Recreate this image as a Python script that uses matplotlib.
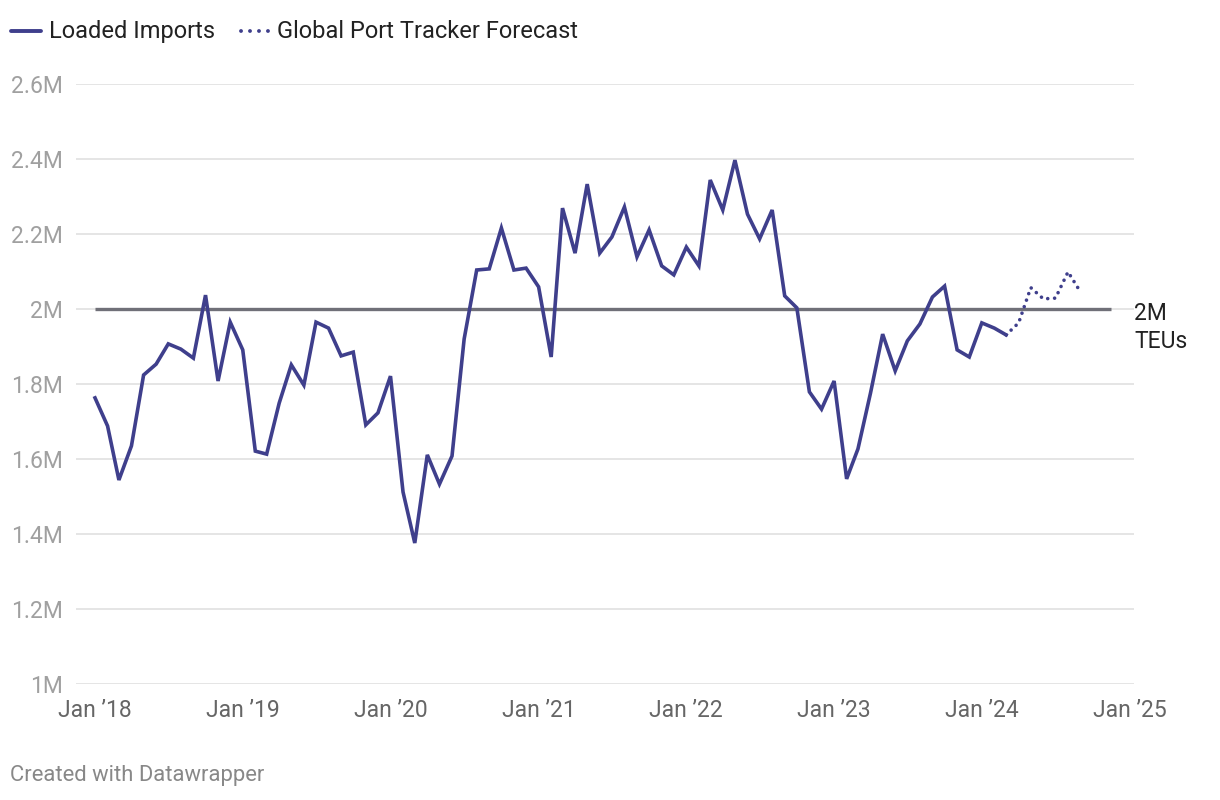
import pandas as pd
import matplotlib
matplotlib.use("Agg")
import matplotlib.pyplot as plt
from matplotlib.lines import Line2D

plt.rcParams["font.family"] = ["Roboto", "DejaVu Sans"]

# monthly loaded imports, millions of TEUs (Jan 2018 - Mar 2024)
import_dates = pd.date_range("2018-01-01", "2024-03-01", freq="MS")
imports = [
    1.763, 1.688, 1.544, 1.635, 1.824, 1.853, 1.907, 1.893, 1.869, 2.037, 1.808, 1.965,
    1.891, 1.621, 1.613, 1.749, 1.851, 1.797, 1.965, 1.949, 1.875, 1.885, 1.691, 1.723,
    1.821, 1.512, 1.376, 1.611, 1.533, 1.608, 1.920, 2.104, 2.107, 2.216, 2.104, 2.109,
    2.059, 1.872, 2.269, 2.149, 2.333, 2.149, 2.192, 2.272, 2.139, 2.211, 2.115, 2.091,
    2.165, 2.115, 2.344, 2.264, 2.397, 2.253, 2.187, 2.264, 2.035, 2.003, 1.779, 1.733,
    1.808, 1.547, 1.627, 1.776, 1.933, 1.835, 1.915, 1.960, 2.032, 2.061, 1.891, 1.872,
    1.963, 1.949, 1.931,
]

# Global Port Tracker forecast (Mar 2024 - Sep 2024)
forecast_dates = pd.date_range("2024-03-01", "2024-09-01", freq="MS")
forecast = [1.931, 1.963, 2.057, 2.027, 2.029, 2.099, 2.045]

ref_value = 2.0
y_ticks = [1.0, 1.2, 1.4, 1.6, 1.8, 2.0, 2.2, 2.4, 2.6]
y_labels = ["1M", "1.2M", "1.4M", "1.6M", "1.8M", "2M", "2.2M", "2.4M", "2.6M"]
x_years = list(range(2018, 2026))
x_labels = ["Jan \u2019%02d" % (y % 100) for y in x_years]

line_color = "#3f3f8c"
W, H = 1220, 800
fs = 16.5

fig = plt.figure(figsize=(W / 100, H / 100), dpi=100)
ax = fig.add_axes([76 / W, 1 - 684 / H, (1134 - 76) / W, (684 - 84) / H])

ax.plot(import_dates, imports, color=line_color, lw=2.6, solid_joinstyle="miter", zorder=4)
ax.plot(forecast_dates, forecast, color=line_color, lw=2.6,
        linestyle=(0, (0.01, 1.9)), dash_capstyle="round", zorder=4)

ax.hlines(ref_value, pd.Timestamp("2018-01-01"), pd.Timestamp("2024-11-15"),
          color="#707078", lw=2.4, zorder=3)
ax.annotate("2M", (1.0, ref_value), xycoords=("axes fraction", "data"),
            xytext=(0, -3.3), textcoords="offset points",
            ha="left", va="center", fontsize=fs, color="#222222")
ax.annotate("TEUs", (1.0, ref_value), xycoords=("axes fraction", "data"),
            xytext=(0, -23.5), textcoords="offset points",
            ha="left", va="center", fontsize=fs, color="#222222")

ax.set_xlim(pd.Timestamp("2017-11-15"), pd.Timestamp("2025-01-11"))
ax.set_ylim(1.0, 2.6)
ax.set_yticks(y_ticks)
ax.set_yticklabels(y_labels)
ax.set_xticks([pd.Timestamp(f"{y}-01-01") for y in x_years])
ax.set_xticklabels(x_labels)

ax.grid(axis="y", color="#e3e3e3", lw=1.3, zorder=0)
ax.set_axisbelow(True)
for s in ax.spines.values():
    s.set_visible(False)
ax.tick_params(axis="y", length=0, pad=9.4, labelsize=fs, labelcolor="#a0a0a0")
ax.tick_params(axis="x", length=0, pad=11, labelsize=fs, labelcolor="#666666")

# legend
lfs = 17
ly = 1 - 31 / H
fig.add_artist(Line2D([11 / W, 41 / W], [ly, ly], transform=fig.transFigure,
                      color=line_color, lw=2.8, solid_capstyle="round"))
fig.text(49 / W, 1 - 38 / H, "Loaded Imports", ha="left", va="baseline",
         fontsize=lfs, color="#222222")
fig.add_artist(Line2D([241 / W, 270 / W], [ly, ly], transform=fig.transFigure,
                      color=line_color, lw=2.8, linestyle=(0, (0.01, 2.3)), dash_capstyle="round"))
fig.text(277 / W, 1 - 38 / H, "Global Port Tracker Forecast", ha="left", va="baseline",
         fontsize=lfs, color="#222222")

fig.text(10 / W, 1 - 776 / H, "Created with Datawrapper", ha="left", va="center",
         fontsize=15.8, color="#888888")

fig.savefig("out.png", dpi=100)
